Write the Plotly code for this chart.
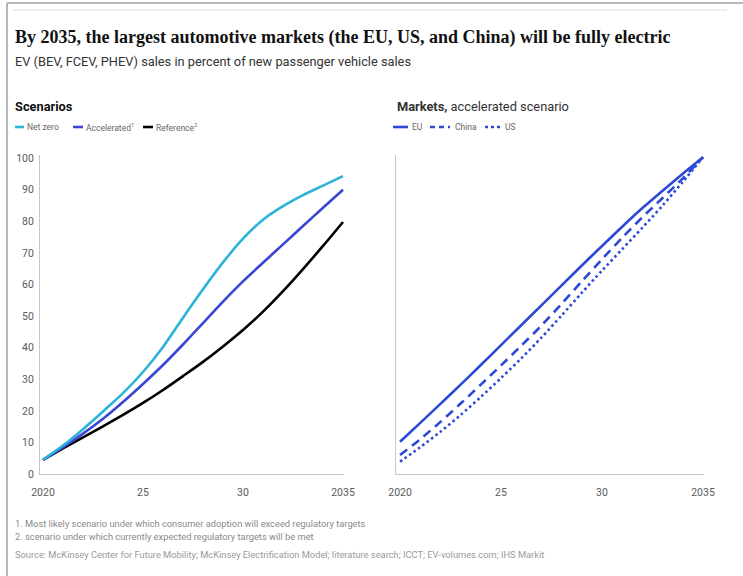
import plotly.graph_objects as go

W, H = 743, 576

years = list(range(2020, 2036))

# Left panel: scenarios (% EV share of new passenger vehicle sales)
net_zero = [4.5, 9.0, 14.2, 19.8, 25.6, 32.3, 40.2, 49.5, 58.5, 67.0, 74.5, 80.5, 84.8, 88.3, 91.3, 94.3]
accelerated = [4.5, 8.5, 12.8, 17.5, 22.8, 28.5, 34.5, 41.0, 47.8, 54.6, 61.0, 66.9, 72.7, 78.5, 84.3, 90.0]
reference = [4.5, 8.1, 11.6, 15.1, 18.7, 22.5, 26.6, 31.0, 35.5, 40.4, 45.6, 51.4, 57.9, 64.9, 72.2, 79.8]

# Right panel: markets, accelerated scenario
eu = [10.2, 16.2, 22.2, 28.3, 34.5, 40.8, 47.1, 53.4, 59.7, 66.0, 72.2, 78.3, 84.2, 89.7, 95.1, 100.3]
china = [6.0, 11.0, 16.5, 22.3, 28.3, 34.4, 40.6, 47.0, 53.9, 61.0, 68.0, 74.8, 81.3, 87.4, 93.6, 100.3]
us = [3.9, 8.5, 13.4, 18.7, 24.4, 30.4, 36.6, 43.2, 50.2, 57.4, 64.4, 71.2, 78.0, 85.0, 92.5, 100.3]

y_ticks = list(range(0, 101, 10))
x_tickvals = [2020, 2025, 2030, 2035]
x_ticktext = ["2020", "25", "30", "2035"]

C_NET = "#2BB3DA"
C_ACC = "#3946D4"
C_REF = "#000000"
C_MKT = "#2C49D6"

def px(x):
    return x / W

def py(y):
    return 1 - y / H

fig = go.Figure()

sp = dict(shape="spline", smoothing=0.8)
fig.add_trace(go.Scatter(x=years, y=reference, mode="lines", line=dict(color=C_REF, width=2.6, **sp), xaxis="x", yaxis="y", showlegend=False))
fig.add_trace(go.Scatter(x=years, y=accelerated, mode="lines", line=dict(color=C_ACC, width=2.6, **sp), xaxis="x", yaxis="y", showlegend=False))
fig.add_trace(go.Scatter(x=years, y=net_zero, mode="lines", line=dict(color=C_NET, width=2.6, **sp), xaxis="x", yaxis="y", showlegend=False))

fig.add_trace(go.Scatter(x=years, y=us, mode="lines", line=dict(color=C_MKT, width=2.6, dash="2.5px,3px", **sp), xaxis="x2", yaxis="y2", showlegend=False))
fig.add_trace(go.Scatter(x=years, y=china, mode="lines", line=dict(color=C_MKT, width=2.6, dash="9px,6px", **sp), xaxis="x2", yaxis="y2", showlegend=False))
fig.add_trace(go.Scatter(x=years, y=eu, mode="lines", line=dict(color=C_MKT, width=2.6, **sp), xaxis="x2", yaxis="y2", showlegend=False))

tickfont = dict(family="Roboto, Arial, sans-serif", size=10.5, color="#5a5a5a")
ydom = [py(474), py(155)]

common = dict(showgrid=False, zeroline=False, showline=True, linecolor="#c8c8c8", linewidth=1,
              ticks="outside", tickcolor="rgba(0,0,0,0)", automargin=False)

fig.update_layout(
    width=W, height=H,
    margin=dict(l=0, r=0, t=0, b=0, pad=0),
    paper_bgcolor="white", plot_bgcolor="white",
    xaxis=dict(domain=[px(40), px(344)], range=[2019.85, 2035.05], tickvals=x_tickvals, ticktext=x_ticktext,
               tickfont=tickfont, ticklen=8, anchor="y", **common),
    yaxis=dict(domain=ydom, range=[0, 101], tickvals=y_ticks, tickfont=tickfont, ticklen=3, anchor="x", **common),
    xaxis2=dict(domain=[px(396), px(704)], range=[2019.8, 2035.05], tickvals=x_tickvals, ticktext=x_ticktext,
                tickfont=tickfont, ticklen=8, anchor="y2", **common),
    yaxis2=dict(domain=ydom, range=[0, 101], showticklabels=False, anchor="x2", **common),
)

sans = "Roboto, Arial, sans-serif"
ann = []
def text(x, y, s, size, color, family=sans, xanchor="left"):
    ann.append(dict(xref="paper", yref="paper", x=px(x), y=py(y), text=s, showarrow=False,
                    xanchor=xanchor, yanchor="middle", borderpad=0,
                    font=dict(family=family, size=size, color=color)))

text(14, 37, "<b>By 2035, the largest automotive markets (the EU, US, and China) will be fully electric</b>", 18, "#111111", family="Liberation Serif, Times New Roman, serif")
text(14, 61, "EV (BEV, FCEV, PHEV) sales in percent of new passenger vehicle sales", 12.8, "#333333")
text(14, 106, "<b>Scenarios</b>", 12.8, "#111111")
text(396, 106, "<b>Markets,</b> accelerated scenario", 12.8, "#333333")

text(26, 127, "Net zero", 8.5, "#666666")
text(85, 127, "Accelerated<sup>1</sup>", 8.5, "#666666")
text(155, 127, "Reference<sup>2</sup>", 8.5, "#666666")
text(411, 127, "EU", 8.5, "#666666")
text(454, 127, "China", 8.5, "#666666")
text(504, 127, "US", 8.5, "#666666")

text(14, 523, "1. Most likely scenario under which consumer adoption will exceed regulatory targets", 9.3, "#8a8a8a")
text(14, 536, "2. scenario under which currently expected regulatory targets will be met", 9.3, "#8a8a8a")
text(14, 554, "Source: McKinsey Center for Future Mobility; McKinsey Electrification Model; literature search; ICCT; EV-volumes.com; IHS Markit", 9.3, "#9a9a9a")

fig.update_layout(annotations=ann)

shapes = []
def line(x0, y0, x1, y1, color, width, dash="solid"):
    shapes.append(dict(type="line", xref="paper", yref="paper", x0=px(x0), y0=py(y0), x1=px(x1), y1=py(y1),
                       line=dict(color=color, width=width, dash=dash)))

# frame and top rule
line(7, 3, 743, 3, "#b8b8b8", 2)
line(7, 3, 7, 576, "#b8b8b8", 2)
line(13, 10, 727, 10, "#dddddd", 1)

# legend swatches
line(15, 127, 24, 127, C_NET, 2.6)
line(73, 127, 83, 127, C_ACC, 2.6)
line(143, 127, 153, 127, C_REF, 2.6)
line(393, 127, 408, 127, C_MKT, 2.6)
line(430, 127, 450, 127, C_MKT, 2.6, dash="5px,4px")
line(485, 127, 502, 127, C_MKT, 2.6, dash="dot")

fig.update_layout(shapes=shapes)

fig.write_html("out.html")
